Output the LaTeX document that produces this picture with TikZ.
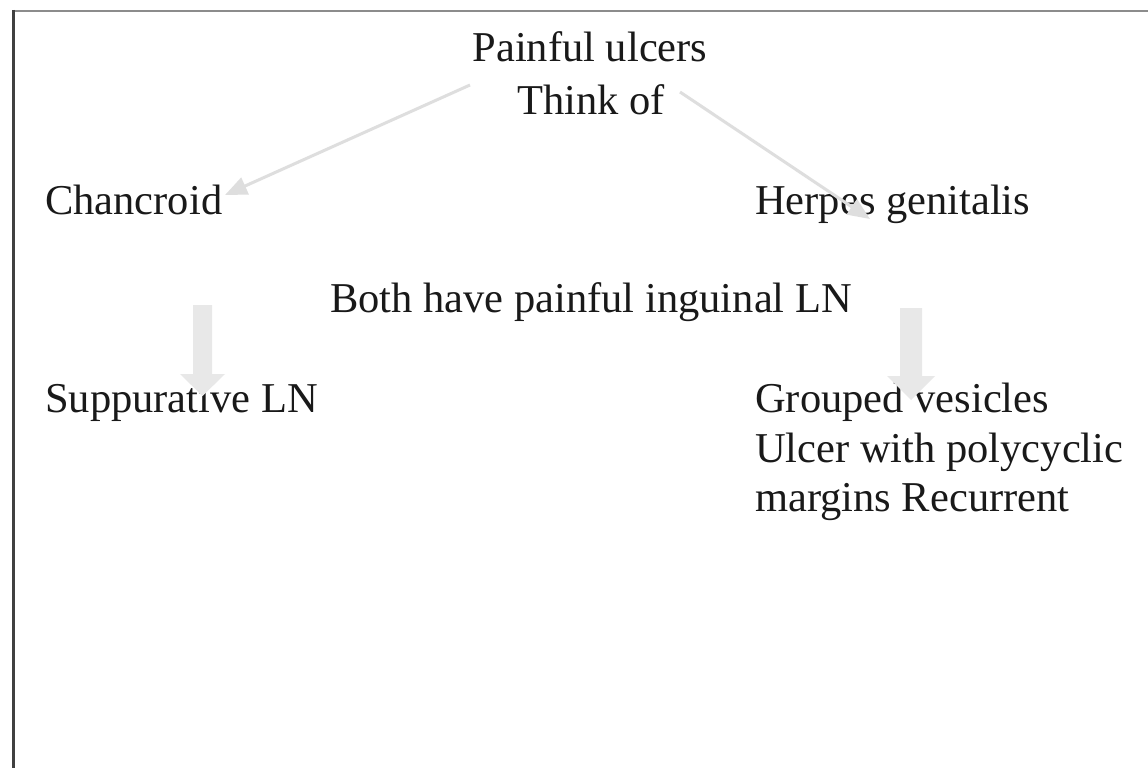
\documentclass[tikz,border=0pt]{standalone}
\usepackage{fontspec}
\setmainfont{Liberation Serif}
\usetikzlibrary{arrows.meta}
\begin{document}
\begin{tikzpicture}[x=1pt,y=-1pt,
  txt/.style={inner sep=0pt,font=\fontsize{42.5}{50}\selectfont,text=black!90},
  thin arrow/.style={draw=black!13,line width=3pt,-{Triangle[length=22pt,width=18pt]}},
  block/.style={fill=black!9,draw=none}]
\useasboundingbox (0,0) rectangle (1148,768);
\fill[white] (0,0) rectangle (1148,768);
% frame
\draw[black!45,line width=2pt] (13,11) -- (1148,11);
\draw[black!75,line width=3pt] (13,10) -- (13,768);
% texts
\node[txt,anchor=base] (t1) at (590,62) {Painful ulcers};
\node[txt,anchor=base] (t2) at (591,114) {Think of};
\node[txt,anchor=base west] (ch) at (45,214) {Chancroid};
\node[txt,anchor=base west] (hg) at (755,214) {Herpes genitalis};
\node[txt,anchor=base west] (both) at (330,312) {Both have painful inguinal LN};
\node[txt,anchor=base west] (sup) at (45,412) {Suppurative LN};
\node[txt,anchor=base west] (g1) at (755,412) {Grouped vesicles};
\node[txt,anchor=base west] (g2) at (755,462) {Ulcer with polycyclic};
\node[txt,anchor=base west] (g3) at (755,511) {margins Recurrent};
% thin arrows
\coordinate (ls) at (470,85);
\coordinate (le) at (225,195);
\coordinate (rs) at (680,92);
\coordinate (re) at (870,219);
\draw[thin arrow] (ls) -- (le);
\draw[thin arrow] (rs) -- (re);
% block arrows
\fill[block] (193,305) -- (212,305) -- (212,374) -- (225,374) -- (202.5,396)
  -- (180,374) -- (193,374) -- cycle;
\fill[block] (900,308) -- (922,308) -- (922,376) -- (935,376) -- (911,400)
  -- (887,376) -- (900,376) -- cycle;
\end{tikzpicture}
\end{document}
